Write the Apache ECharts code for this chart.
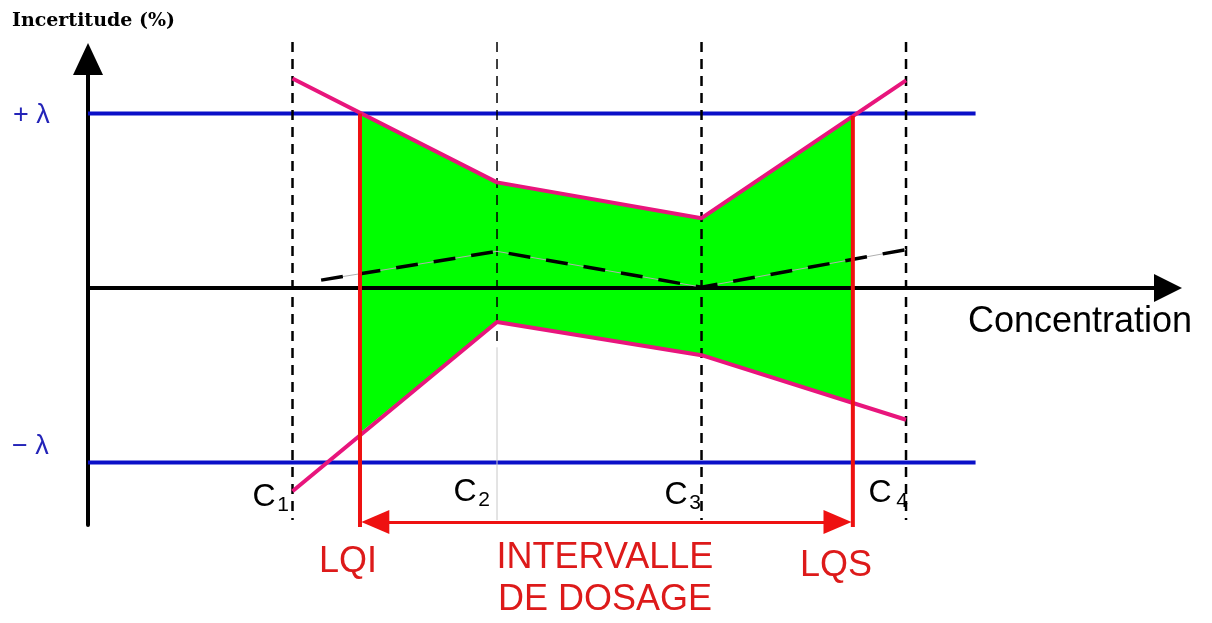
<!DOCTYPE html>
<html>
<head>
<meta charset="utf-8">
<script src="https://cdn.jsdelivr.net/npm/echarts@6/dist/echarts.min.js"></script>
<style>
  html, body { margin: 0; padding: 0; background: #fff; }
  #chart { width: 1212px; height: 623px; }
</style>
</head>
<body>
<div id="chart"></div>
<script>
  // niveaux de concentration C1..C4
  const levels = [1, 2, 3, 4]
  const levelNames = ['1', '2', '3', '4']
  // limites de tolérance (%)
  const upperTol = [12.0, 6.05, 4.0, 11.9]
  const lowerTol = [-11.65, -1.95, -3.85, -7.55]
  // biais (tiretés)
  const biasX = [1.14, 2, 3, 4]
  const biasY = [0.45, 2.1, 0.05, 2.2]
  // limites d'acceptation
  const lambda = 10
  const lambdaEnd = 4.34
  // limites de quantification
  const lqi = 1.33
  const lqs = 3.74
  // zone verte (intervalle de dosage)
  const greenX = [lqi, 2, 3, lqs]
  const greenUpper = [10.0, 6.05, 4.0, 9.85]
  const greenLower = [-8.3, -1.95, -3.85, -6.6]

  const TOP = 14.1, BOTTOM = -13.3, RED_BOTTOM = -13.7, ARROW_Y = -13.41

  const chart = echarts.init(document.getElementById('chart'))

  const greenPts = greenX.map((x, i) => [x, greenUpper[i]])
    .concat(greenX.map((x, i) => [x, greenLower[i]]).reverse())

  const series = []

  series.push({
    type: 'custom',
    z: 1,
    data: [[0, 0]],
    renderItem: (params, api) => ({
      type: 'polygon',
      shape: { points: greenPts.map(p => api.coord(p)) },
      style: { fill: '#00ff00' },
    }),
  })

  // +λ / -λ
  ;[lambda, -lambda].forEach(v => {
    series.push({
      type: 'line', z: 4, showSymbol: false, clip: false,
      data: [[0, v], [lambdaEnd, v]],
      lineStyle: { color: '#0a10c8', width: 4 },
    })
  })

  // verticales C1..C4
  levels.forEach((x, i) => {
    const thin = i === 1
    series.push({
      type: 'line', z: 4, showSymbol: false, clip: false,
      data: thin ? [[x, TOP], [x, -3.4]] : [[x, TOP], [x, BOTTOM]],
      lineStyle: { color: '#000', width: thin ? 1.5 : 2.5, type: [10, 7] },
    })
    if (thin) {
      series.push({
        type: 'line', z: 4, showSymbol: false, clip: false,
        data: [[x, -3.4], [x, BOTTOM]],
        lineStyle: { color: '#c8c8c8', width: 1 },
      })
    }
  })

  // biais
  series.push({
    type: 'line', z: 4, showSymbol: false,
    data: biasX.map((x, i) => [x, biasY[i]]),
    lineStyle: { color: '#b0b0b0', width: 1 },
  })
  series.push({
    type: 'line', z: 4, showSymbol: false,
    data: biasX.map((x, i) => [x, biasY[i]]),
    lineStyle: { color: '#000', width: 3.5, type: [22, 16] },
  })

  // limites de tolérance
  ;[upperTol, lowerTol].forEach(arr => {
    series.push({
      type: 'line', z: 6, showSymbol: false,
      data: levels.map((x, i) => [x, arr[i]]),
      lineStyle: { color: '#e8157c', width: 4 },
    })
  })

  // LQI / LQS
  ;[[lqi, greenUpper[0]], [lqs, greenUpper[3]]].forEach(([x, top]) => {
    series.push({
      type: 'line', z: 7, showSymbol: false, clip: false,
      data: [[x, top], [x, RED_BOTTOM]],
      lineStyle: { color: '#ee1111', width: 4 },
    })
  })

  // flèche intervalle de dosage
  series.push({
    type: 'line', z: 7, data: [],
    markLine: {
      silent: true,
      symbol: ['triangle', 'triangle'],
      symbolSize: [24, 28],
      label: { show: false },
      lineStyle: { color: '#ee1111', width: 3, type: 'solid' },
      data: [[{ coord: [lqi + 0.075, ARROW_Y] }, { coord: [lqs - 0.075, ARROW_Y] }]],
    },
  })

  const sans = "'Liberation Sans', Arial, sans-serif"
  const graphic = [
    { type: 'text', x: 12, y: 21, style: { text: 'Incertitude (%)', font: "bold 19px 'DejaVu Serif', serif", fill: '#000', verticalAlign: 'middle' } },
    { type: 'text', x: 13, y: 116, style: { text: '+ λ', font: '27px ' + sans, fill: '#2424b8', verticalAlign: 'middle' } },
    { type: 'text', x: 12, y: 447, style: { text: '− λ', font: '27px ' + sans, fill: '#2424b8', verticalAlign: 'middle' } },
    { type: 'text', x: 968, y: 322, style: { text: 'Concentration', font: '36px ' + sans, fill: '#000', verticalAlign: 'middle' } },
    { type: 'text', x: 348, y: 562, style: { text: 'LQI', font: '36px ' + sans, fill: '#dd1a1a', align: 'center', verticalAlign: 'middle' } },
    { type: 'text', x: 836, y: 566, style: { text: 'LQS', font: '36px ' + sans, fill: '#dd1a1a', align: 'center', verticalAlign: 'middle' } },
    { type: 'text', x: 605, y: 558, style: { text: 'INTERVALLE', font: '36px ' + sans, fill: '#dd1a1a', align: 'center', verticalAlign: 'middle' } },
    { type: 'text', x: 605, y: 600, style: { text: 'DE DOSAGE', font: '36px ' + sans, fill: '#dd1a1a', align: 'center', verticalAlign: 'middle' } },
  ]
  // étiquettes C1..C4
  const cPos = [[264, 497], [465, 492], [676, 495], [880, 493]]
  cPos.forEach(([x, y], i) => {
    graphic.push({ type: 'text', x: x, y: y, style: { text: 'C', font: '32px ' + sans, fill: '#000', align: 'center', verticalAlign: 'middle' } })
    graphic.push({ type: 'text', x: x + (i === 3 ? 22 : 19), y: y + 8, style: { text: levelNames[i], font: '21px ' + sans, fill: '#000', align: 'center', verticalAlign: 'middle' } })
  })

  const axisCommon = {
    type: 'value',
    axisTick: { show: false },
    axisLabel: { show: false },
    splitLine: { show: false },
    z: 3,
  }

  const option = {
    animation: false,
    backgroundColor: '#fff',
    grid: { left: 88, right: 44, top: 59, bottom: 98 },
    xAxis: Object.assign({}, axisCommon, {
      min: 0, max: 5.281,
      axisLine: { show: true, onZero: true, symbol: ['none', 'triangle'], symbolSize: [28, 28], lineStyle: { color: '#000', width: 4 } },
    }),
    yAxis: Object.assign({}, axisCommon, {
      min: -13.58, max: 13.12,
      axisLine: { show: true, onZero: true, symbol: ['none', 'triangle'], symbolSize: [30, 32], lineStyle: { color: '#000', width: 4 } },
    }),
    graphic: graphic,
    series: series,
  }

  chart.setOption(option)
</script>
</body>
</html>
